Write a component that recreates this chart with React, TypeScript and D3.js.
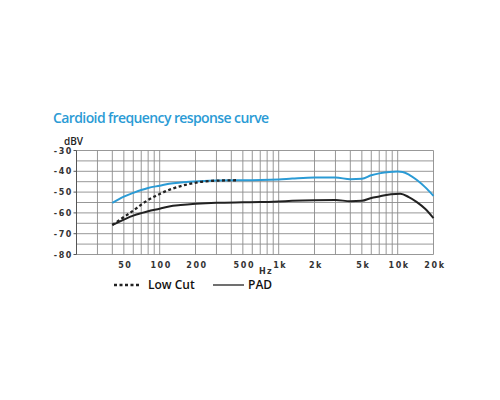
import { useEffect, useRef } from 'react'
import * as d3 from 'd3'

// frequency response (Hz, dBV)
const cardioidFreq = [40, 50, 60, 70, 80, 100, 120, 150, 200, 300, 500, 700, 1000, 1300, 2000, 3000, 4000, 5000, 6000, 7000, 8500, 10000, 11000, 12500, 14500, 17000, 20000]
const cardioidDb = [-55.2, -52.2, -50.4, -49, -48, -46.9, -46, -45.4, -44.9, -44.4, -44.3, -44.2, -43.9, -43.5, -43, -43, -43.8, -43.6, -41.9, -41, -40.3, -40.1, -40.3, -41.7, -44.2, -47.6, -51.8]

const padFreq = [40, 50, 60, 70, 80, 100, 120, 150, 200, 300, 500, 700, 1000, 1300, 2000, 3000, 4000, 5000, 6000, 7000, 8800, 10500, 12400, 14500, 17000, 20000]
const padDb = [-65.8, -63.2, -61.3, -60.1, -59.2, -58, -56.9, -56.2, -55.6, -55.1, -54.9, -54.8, -54.5, -54.2, -53.9, -53.8, -54.4, -54.2, -52.8, -52.1, -51, -50.8, -52.4, -54.8, -58, -62.5]

const lowCutFreq = [40, 50, 60, 70, 80, 100, 127, 165, 213, 300, 450]
const lowCutDb = [-65.8, -62, -58.9, -56, -53.8, -50.9, -48.4, -46.5, -45.2, -44.5, -44.3]

const gridFreqs = [20, 30, 40, 50, 60, 70, 80, 90, 100, 200, 300, 400, 500, 600, 700, 800, 900, 1000, 2000, 3000, 4000, 5000, 6000, 7000, 8000, 9000, 10000, 20000]
const xTickValues = [50, 100, 200, 500, 1000, 2000, 5000, 10000, 20000]
const xTickLabels = ['50', '100', '200', '500', '1k', '2k', '5k', '10k', '20k']
const yTicks = [-30, -40, -50, -60, -70, -80]
const yGrid = [-30, -35, -40, -45, -50, -55, -60, -65, -70, -75, -80]

const BLUE = '#2b9bd5'

export default function App() {
  const svgRef = useRef<SVGSVGElement>(null)

  useEffect(() => {
    if (!svgRef.current) return
    const svg = d3.select(svgRef.current)
    svg.selectAll('*').remove()

    const x = d3.scaleLog().domain([20, 20000]).range([76.5, 433.5])
    const y = d3.scaleLinear().domain([-80, -30]).range([254.5, 150.5])

    svg.append('text')
      .attr('x', 53).attr('y', 123)
      .style('font-family', '"Open Sans", sans-serif')
      .style('font-weight', 600)
      .style('font-size', '14px')
      .style('letter-spacing', '-0.6px')
      .style('fill', BLUE)
      .text('Cardioid frequency response curve')

    const grid = svg.append('g').attr('stroke', '#8c8c8c').attr('stroke-width', 0.9)
    gridFreqs.forEach(f => {
      grid.append('line')
        .attr('x1', x(f)).attr('x2', x(f))
        .attr('y1', y(-30)).attr('y2', y(-80))
    })
    yGrid.forEach(v => {
      grid.append('line')
        .attr('x1', x(20)).attr('x2', x(20000))
        .attr('y1', y(v)).attr('y2', y(v))
    })
    // left axis line + ticks
    svg.append('line')
      .attr('x1', x(20)).attr('x2', x(20))
      .attr('y1', y(-30)).attr('y2', y(-80))
      .attr('stroke', '#555').attr('stroke-width', 1)
    yTicks.forEach(v => {
      svg.append('line')
        .attr('x1', x(20) - 3).attr('x2', x(20))
        .attr('y1', y(v)).attr('y2', y(v))
        .attr('stroke', '#555').attr('stroke-width', 1)
    })

    const tickFont = (sel: d3.Selection<SVGTextElement, unknown, null, undefined>) =>
      sel.style('font-family', '"DejaVu Sans", sans-serif')
        .style('font-weight', 'bold')
        .style('font-size', '8px')
        .style('letter-spacing', '1.6px')
        .style('fill', '#333')

    yTicks.forEach(v => {
      svg.append('text')
        .attr('x', 73).attr('y', y(v) + 3)
        .attr('text-anchor', 'end')
        .call(tickFont)
        .text(String(v))
    })

    xTickValues.forEach((v, i) => {
      svg.append('text')
        .attr('x', x(v) + 1.5).attr('y', 268)
        .attr('text-anchor', 'middle')
        .call(tickFont)
        .text(xTickLabels[i])
    })

    svg.append('text')
      .attr('x', 259).attr('y', 274)
      .call(tickFont)
      .style('letter-spacing', '1.2px')
      .text('Hz')

    svg.append('text')
      .attr('x', 64).attr('y', 145)
      .style('font-family', '"Open Sans", sans-serif')
      .style('font-weight', 600)
      .style('font-size', '10px')
      .style('fill', '#222')
      .text('dBV')

    const line = d3.line<[number, number]>()
      .x(d => x(d[0]))
      .y(d => y(d[1]))
      .curve(d3.curveMonotoneX)

    svg.append('path')
      .datum(cardioidFreq.map((f, i) => [f, cardioidDb[i]] as [number, number]))
      .attr('d', line)
      .attr('fill', 'none')
      .attr('stroke', BLUE)
      .attr('stroke-width', 2)

    svg.append('path')
      .datum(padFreq.map((f, i) => [f, padDb[i]] as [number, number]))
      .attr('d', line)
      .attr('fill', 'none')
      .attr('stroke', '#222')
      .attr('stroke-width', 2)

    svg.append('path')
      .datum(lowCutFreq.map((f, i) => [f, lowCutDb[i]] as [number, number]))
      .attr('d', line)
      .attr('fill', 'none')
      .attr('stroke', '#222')
      .attr('stroke-width', 2.3)
      .attr('stroke-dasharray', '3,2.5')

    // legend
    const legendFont = (sel: d3.Selection<SVGTextElement, unknown, null, undefined>) =>
      sel.style('font-family', '"Open Sans", sans-serif')
        .style('font-weight', 600)
        .style('font-size', '12px')
        .style('fill', '#111')

    const legend = svg.append('g')
    legend.append('line')
      .attr('x1', 114).attr('x2', 139).attr('y1', 285).attr('y2', 285)
      .attr('stroke', '#222').attr('stroke-width', 2.3)
      .attr('stroke-dasharray', '3,2.5')
    legend.append('text')
      .attr('x', 148).attr('y', 289)
      .call(legendFont)
      .text('Low Cut')
    legend.append('line')
      .attr('x1', 213).attr('x2', 244).attr('y1', 285).attr('y2', 285)
      .attr('stroke', '#222').attr('stroke-width', 1.3)
    legend.append('text')
      .attr('x', 248).attr('y', 289)
      .call(legendFont)
      .text('PAD')
  }, [])

  return (
    <div style={{ position: 'fixed', left: 0, top: 0 }}>
      <svg ref={svgRef} width={500} height={400} style={{ display: 'block', background: '#fff' }} />
    </div>
  )
}
